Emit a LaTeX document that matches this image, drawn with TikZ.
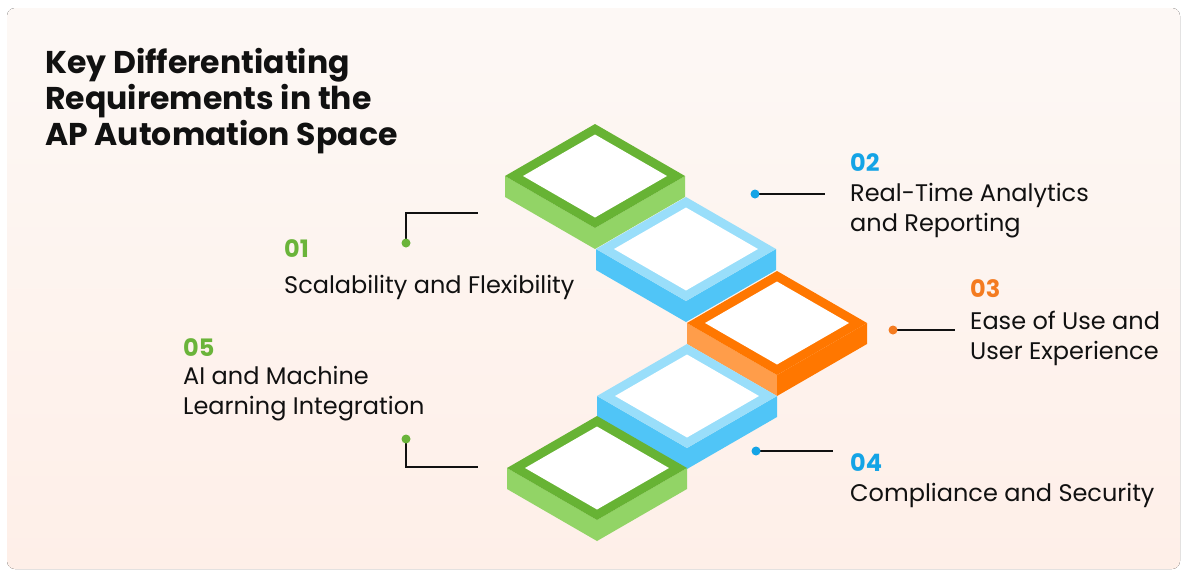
\documentclass[tikz,border=0pt]{standalone}
\usepackage{fontspec}
\setmainfont{Poppins}
\usepackage{xcolor}
\usepackage{tikz}
\usetikzlibrary{positioning}

\definecolor{grnD}{HTML}{67B334}
\definecolor{grnL}{HTML}{92D466}
\definecolor{bluL}{HTML}{99DEFA}
\definecolor{bluD}{HTML}{50C5F7}
\definecolor{orgD}{HTML}{FF7700}
\definecolor{orgL}{HTML}{FF9D4A}
\definecolor{numG}{HTML}{6AB43A}
\definecolor{numB}{HTML}{14A4E6}
\definecolor{numO}{HTML}{F47B20}
\definecolor{ink}{HTML}{111111}
\definecolor{bgT}{HTML}{FDF8F5}
\definecolor{bgB}{HTML}{FEEFE8}

\begin{document}
\begin{tikzpicture}[
  x = 1pt, y = -1pt,
  title/.style = {anchor=base west, inner sep=0pt, align=left, text=ink,
                  font=\fontsize{31.5}{36}\selectfont\bfseries},
  num/.style   = {anchor=base west, inner sep=0pt,
                  font=\fontsize{24}{30}\selectfont\bfseries},
  desc/.style  = {anchor=base west, inner sep=0pt, align=left, text=ink,
                  font=\fontsize{24}{30}\selectfont},
  lead/.style  = {draw=ink, line width=2.8pt}
]

% background
\useasboundingbox (0,0) rectangle (1183,571);
\fill[top color=bgT, bottom color=bgB, rounded corners=8pt] (7,8) rectangle (1180,569);

% stacked tiles
\foreach \cx/\cy/\fr/\sl/\sr in {595/176/grnD/grnL/grnL, 686/249/bluL/bluD/bluD,
    777/323/orgD/orgL/orgD, 687/396/bluL/bluD/bluD, 597/468/grnD/grnL/grnL}
{
  \fill[\sl] (\cx-90,\cy) -- (\cx,\cy+52) -- (\cx,\cy+73) -- (\cx-90,\cy+21) -- cycle;
  \fill[\sr] (\cx,\cy+52) -- (\cx+90,\cy) -- (\cx+90,\cy+21) -- (\cx,\cy+73) -- cycle;
  \fill[\fr] (\cx-90,\cy) -- (\cx,\cy-52) -- (\cx+90,\cy) -- (\cx,\cy+52) -- cycle;
  \fill[white] (\cx-72,\cy) -- (\cx,\cy-41.5) -- (\cx+72,\cy) -- (\cx,\cy+41.5) -- cycle;
}

% multi-line nodes sit on their last baseline
\node[title] (head) at (45,145) {Key Differentiating\\Requirements in the\\AP Automation Space};

\node[num, text=numG] (n1) at (284,257) {01};
\node[desc] (d1) at (284,293) {Scalability and Flexibility};
\node[num, text=numB] (n2) at (850,171) {02};
\node[desc] (d2) at (850,231) {Real-Time Analytics\\and Reporting};
\node[num, text=numO] (n3) at (970,297) {03};
\node[desc] (d3) at (970,359) {Ease of Use and\\User Experience};
\node[num, text=numB] (n4) at (850,471) {04};
\node[desc] (d4) at (850,501) {Compliance and Security};
\node[num, text=numG] (n5) at (183,356) {05};
\node[desc] (d5) at (183,414) {AI and Machine\\Learning Integration};

% leader lines
\coordinate (p1) at (406,243); \coordinate (q1) at (478,213);
\coordinate (p2) at (755,194); \coordinate (q2) at (825,194);
\coordinate (p3) at (893,330); \coordinate (q3) at (955,330);
\coordinate (p4) at (756,451); \coordinate (q4) at (833,451);
\coordinate (p5) at (406,439); \coordinate (q5) at (478,467);

\draw[lead] (p1) |- (q1);
\draw[lead] (p2) -- (q2);
\draw[lead] (p3) -- (q3);
\draw[lead] (p4) -- (q4);
\draw[lead] (p5) |- (q5);

\fill[numG] (p1) circle (4.5);
\fill[numB] (p2) circle (4.5);
\fill[numO] (p3) circle (4.5);
\fill[numB] (p4) circle (4.5);
\fill[numG] (p5) circle (4.5);
\end{tikzpicture}
\end{document}
